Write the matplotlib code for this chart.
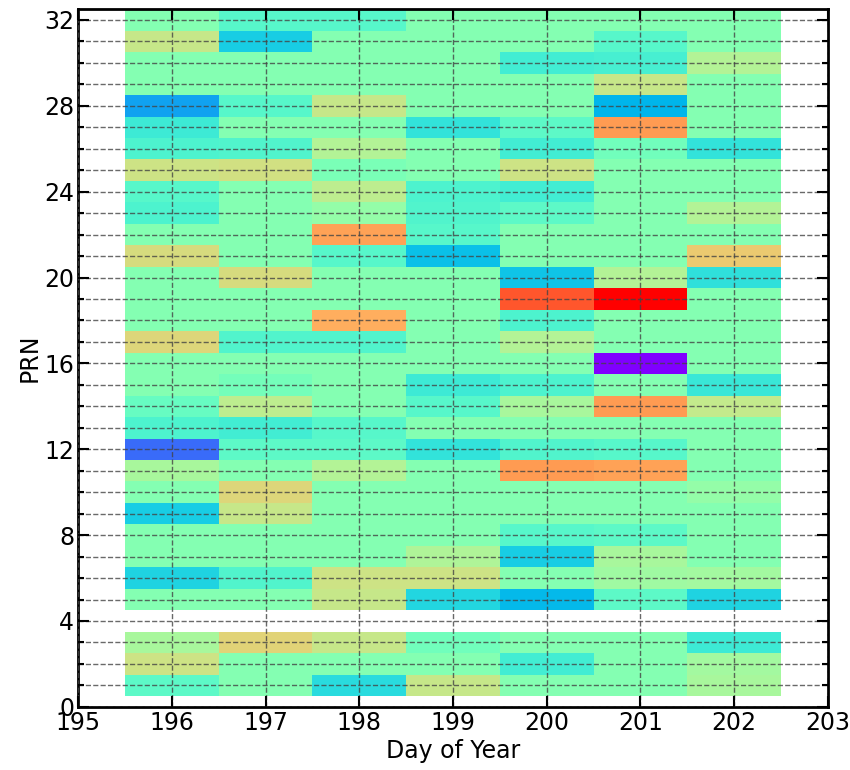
import numpy as np
import matplotlib
matplotlib.use("Agg")
import matplotlib.pyplot as plt
from matplotlib.ticker import MultipleLocator

days = [196, 197, 198, 199, 200, 201, 202]
prns = list(range(1, 33))

# normalised value per PRN (rows, PRN 1..32) and day (columns, 196..202)
B = 0.51
vals = [
    [0.43, B,    0.33, 0.64, B,    B,    0.58],  # 1
    [0.65, B,    B,    B,    0.38, B,    0.57],  # 2
    [0.58, 0.69, 0.64, 0.47, B,    B,    0.37],  # 3
    [np.nan] * 7,                                # 4
    [B,    B,    0.64, 0.32, 0.26, 0.43, 0.31],  # 5
    [0.31, 0.41, 0.65, 0.65, B,    0.56, 0.57],  # 6
    [B,    B,    B,    0.59, 0.30, 0.58, B],     # 7
    [B,    B,    B,    B,    0.42, 0.43, B],     # 8
    [0.30, 0.64, B,    B,    B,    B,    B],     # 9
    [B,    0.68, B,    B,    B,    B,    0.54],  # 10
    [0.58, B,    0.60, B,    0.79, 0.78, B],     # 11
    [0.14, 0.43, 0.43, 0.35, 0.41, 0.42, B],     # 12
    [0.40, 0.38, 0.42, B,    B,    B,    B],     # 13
    [0.45, 0.62, B,    0.42, 0.58, 0.79, 0.63],  # 14
    [B,    0.48, B,    0.37, 0.40, B,    0.36],  # 15
    [B,    B,    B,    B,    B,    0.00, B],     # 16
    [0.68, 0.41, 0.41, B,    0.60, B,    B],     # 17
    [B,    B,    0.76, B,    0.40, B,    B],     # 18
    [B,    B,    B,    B,    0.89, 1.00, B],     # 19
    [B,    0.67, B,    B,    0.28, 0.60, 0.34],  # 20
    [0.67, B,    0.42, 0.27, B,    B,    0.71],  # 21
    [B,    B,    0.78, 0.42, B,    B,    B],     # 22
    [0.40, B,    0.54, 0.41, 0.43, B,    0.60],  # 23
    [0.42, B,    0.62, 0.40, 0.38, B,    B],     # 24
    [0.65, 0.66, 0.49, B,    0.65, B,    B],     # 25
    [0.40, 0.41, 0.60, B,    0.38, 0.47, 0.35],  # 26
    [0.37, B,    B,    0.35, 0.43, 0.79, B],     # 27
    [0.22, 0.42, 0.64, B,    B,    0.25, B],     # 28
    [B,    B,    B,    B,    B,    0.64, B],     # 29
    [B,    B,    B,    B,    0.38, 0.39, 0.60],  # 30
    [0.64, 0.30, B,    B,    B,    0.42, B],     # 31
    [B,    0.42, 0.42, B,    B,    B,    B],     # 32
]

data = np.ma.masked_invalid(np.array(vals, dtype=float))
x_edges = np.concatenate([np.array(days) - 0.5, [days[-1] + 0.5]])
y_edges = np.concatenate([np.array(prns) - 0.5, [prns[-1] + 0.5]])

plt.rcParams["font.family"] = "DejaVu Sans"
fig = plt.figure(figsize=(8.5, 7.7), dpi=100)
ax = fig.add_axes([0.092, 0.082, 0.882, 0.906])

ax.pcolormesh(x_edges, y_edges, data, cmap="rainbow", vmin=0, vmax=1,
              shading="flat", zorder=1)

ax.set_xlim(195, 203)
ax.set_ylim(0, 32.5)
ax.xaxis.set_major_locator(MultipleLocator(1))
ax.yaxis.set_major_locator(MultipleLocator(4))
ax.yaxis.set_minor_locator(MultipleLocator(1))

ax.set_axisbelow(False)
ax.grid(True, axis="x", which="major", linestyle="--", color="#444444",
        linewidth=1.0, alpha=0.8)
ax.grid(True, axis="y", which="both", linestyle="--", color="#444444",
        linewidth=1.0, alpha=0.8)

ax.tick_params(which="both", direction="in", top=True, right=True,
               labelsize=17, width=1.5)
ax.tick_params(which="major", length=8, pad=3)
ax.tick_params(which="minor", length=4)
for sp in ax.spines.values():
    sp.set_linewidth(2)

ax.set_xlabel("Day of Year", fontsize=17, labelpad=3)
ax.set_ylabel("PRN", fontsize=17, labelpad=2)

fig.savefig("out.png", dpi=100, facecolor="white")
